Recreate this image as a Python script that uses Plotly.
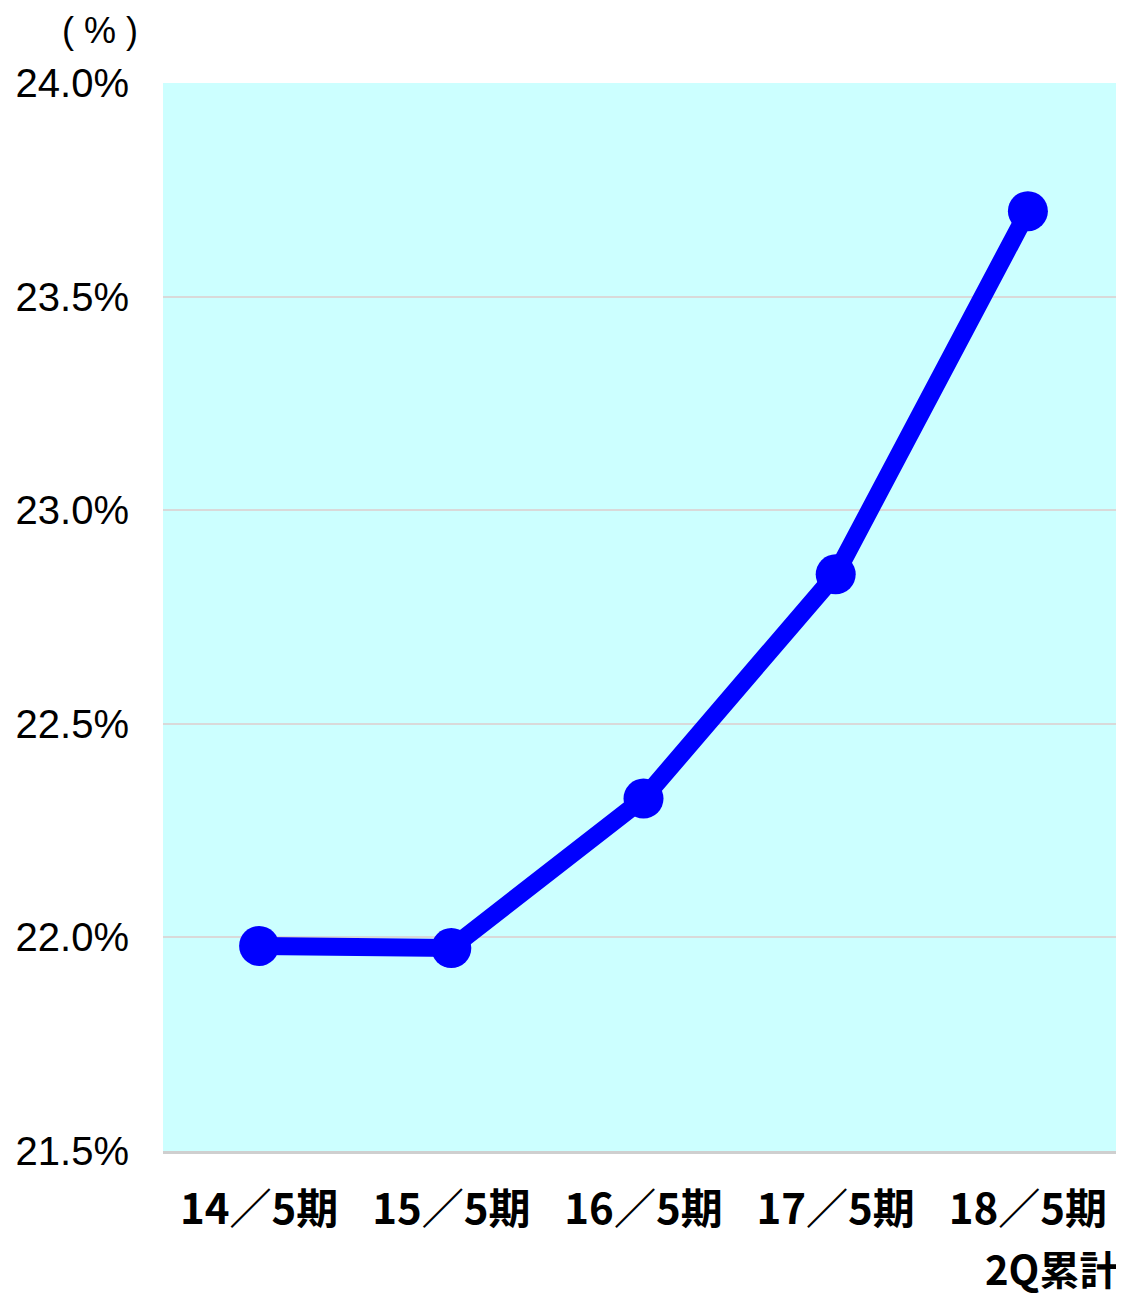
import plotly.graph_objects as go

categories = ["14／5期", "15／5期", "16／5期", "17／5期", "18／5期"]
last_sub_label = "2Q累計"
values = [21.98, 21.975, 22.325, 22.85, 23.70]
y_ticks = [21.5, 22.0, 22.5, 23.0, 23.5, 24.0]
y_tick_text = ["21.5%", "22.0%", "22.5%", "23.0%", "23.5%", "24.0%"]
unit_label = "( % )"

FONT = "Noto Sans CJK JP"

fig = go.Figure()
fig.add_trace(go.Scatter(
    x=categories, y=values, mode="lines+markers",
    line=dict(color="#0000FF", width=18),
    marker=dict(color="#0000FF", size=40),
    showlegend=False, hoverinfo="skip",
))

fig.update_layout(
    width=1116, height=1289,
    margin=dict(l=155, r=0, t=75, b=146),
    paper_bgcolor="white", plot_bgcolor="#CCFFFF",
    font=dict(family=FONT, color="black"),
    xaxis=dict(
        type="category", range=[-0.5, 4.5],
        showgrid=False, showline=True, linecolor="#cfcfcf", linewidth=3,
        ticks="", tickfont=dict(size=42, family=FONT, weight="bold"),
        ticklabelstandoff=20, fixedrange=True,
    ),
    yaxis=dict(
        range=[21.5, 24.0], tickvals=y_ticks, ticktext=y_tick_text,
        showgrid=True, gridcolor="#d9d9d9", gridwidth=2,
        zeroline=False, showline=False, ticks="",
        tickfont=dict(size=40, family="Liberation Sans"),
        ticklabelstandoff=33, fixedrange=True,
    ),
    annotations=[
        dict(text=last_sub_label, xref="paper", yref="paper", x=1.0, y=0,
             xanchor="right", yanchor="middle", xshift=-3, yshift=-117,
             showarrow=False,
             font=dict(size=40, family=FONT, weight="bold")),
        dict(text=unit_label, xref="paper", yref="paper", x=0, y=1,
             xanchor="center", yanchor="middle", xshift=-63, yshift=53,
             showarrow=False,
             font=dict(size=36, family="Liberation Sans")),
    ],
)

fig.write_html("out.html")
